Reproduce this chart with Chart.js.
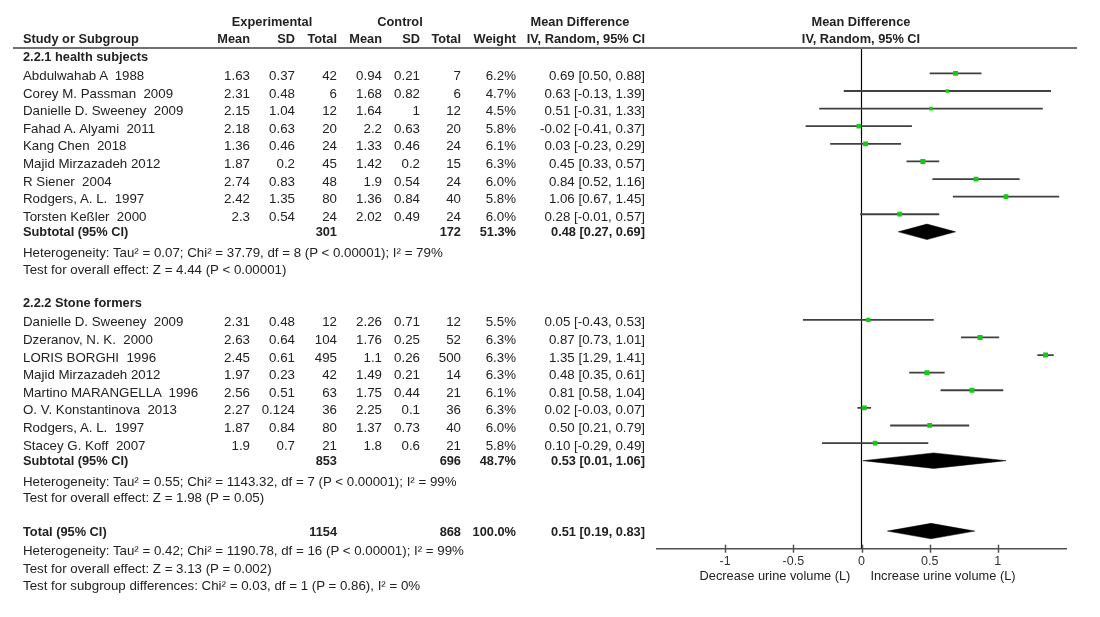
<!DOCTYPE html>
<html>
<head>
<meta charset="utf-8">
<script src="https://cdn.jsdelivr.net/npm/chart.js@4.4.1/dist/chart.umd.min.js"></script>
<style>
html,body{margin:0;padding:0;background:#fff;}
#wrap{position:relative;width:1100px;height:617px;overflow:hidden;font-family:"Liberation Sans",Arial,sans-serif;color:#222;}
#wrap canvas{position:absolute;left:0;top:0;}
.t{position:absolute;white-space:pre;font-size:13.3px;line-height:16px;}
.b{font-weight:bold;font-size:12.8px;}
#topline{position:absolute;left:13px;top:47px;width:1064px;height:2px;background:#707070;}
</style>
</head>
<body>
<div id="wrap">
  <canvas id="forest" width="1100" height="617"></canvas>
  <div id="topline"></div>
</div>
<script>
// study level data
const studies = ['Abdulwahab A  1988', 'Corey M. Passman  2009', 'Danielle D. Sweeney  2009', 'Fahad A. Alyami  2011',
  'Kang Chen  2018', 'Majid Mirzazadeh 2012', 'R Siener  2004', 'Rodgers, A. L.  1997', 'Torsten Keßler  2000',
  'Danielle D. Sweeney  2009', 'Dzeranov, N. K.  2000', 'LORIS BORGHI  1996', 'Majid Mirzazadeh 2012',
  'Martino MARANGELLA  1996', 'O. V. Konstantinova  2013', 'Rodgers, A. L.  1997', 'Stacey G. Koff  2007'];
const studyGroup = [0,0,0,0,0,0,0,0,0, 1,1,1,1,1,1,1,1];
const expMean = [1.63, 2.31, 2.15, 2.18, 1.36, 1.87, 2.74, 2.42, 2.3, 2.31, 2.63, 2.45, 1.97, 2.56, 2.27, 1.87, 1.9];
const expSD   = [0.37, 0.48, 1.04, 0.63, 0.46, 0.2, 0.83, 1.35, 0.54, 0.48, 0.64, 0.61, 0.23, 0.51, 0.124, 0.84, 0.7];
const expN    = [42, 6, 12, 20, 24, 45, 48, 80, 24, 12, 104, 495, 42, 63, 36, 80, 21];
const ctlMean = [0.94, 1.68, 1.64, 2.2, 1.33, 1.42, 1.9, 1.36, 2.02, 2.26, 1.76, 1.1, 1.49, 1.75, 2.25, 1.37, 1.8];
const ctlSD   = [0.21, 0.82, 1, 0.63, 0.46, 0.2, 0.54, 0.84, 0.49, 0.71, 0.25, 0.26, 0.21, 0.44, 0.1, 0.73, 0.6];
const ctlN    = [7, 6, 12, 20, 24, 15, 24, 40, 24, 12, 52, 500, 14, 21, 36, 40, 21];
const weight  = [6.2, 4.7, 4.5, 5.8, 6.1, 6.3, 6.0, 5.8, 6.0, 5.5, 6.3, 6.3, 6.3, 6.1, 6.3, 6.0, 5.8];
const md      = [0.69, 0.63, 0.51, -0.02, 0.03, 0.45, 0.84, 1.06, 0.28, 0.05, 0.87, 1.35, 0.48, 0.81, 0.02, 0.50, 0.10];
const ciLow   = [0.50, -0.13, -0.31, -0.41, -0.23, 0.33, 0.52, 0.67, -0.01, -0.43, 0.73, 1.29, 0.35, 0.58, -0.03, 0.21, -0.29];
const ciHigh  = [0.88, 1.39, 1.33, 0.37, 0.29, 0.57, 1.16, 1.45, 0.57, 0.53, 1.01, 1.41, 0.61, 1.04, 0.07, 0.79, 0.49];

// subgroups and overall
const groupNames = ['2.2.1 health subjects', '2.2.2 Stone formers'];
const groupExpN = [301, 853];
const groupCtlN = [172, 696];
const groupWeight = [51.3, 48.7];
const groupMd = [0.48, 0.53];
const groupLow = [0.27, 0.01];
const groupHigh = [0.69, 1.06];
const groupHet = ['Heterogeneity: Tau² = 0.07; Chi² = 37.79, df = 8 (P < 0.00001); I² = 79%',
                  'Heterogeneity: Tau² = 0.55; Chi² = 1143.32, df = 7 (P < 0.00001); I² = 99%'];
const groupEffect = ['Test for overall effect: Z = 4.44 (P < 0.00001)', 'Test for overall effect: Z = 1.98 (P = 0.05)'];
const totalN = [1154, 868];
const totalWeight = 100.0;
const totalCI = [0.51, 0.19, 0.83];
const totalNotes = ['Heterogeneity: Tau² = 0.42; Chi² = 1190.78, df = 16 (P < 0.00001); I² = 99%',
                    'Test for overall effect: Z = 3.13 (P = 0.002)',
                    'Test for subgroup differences: Chi² = 0.03, df = 1 (P = 0.86), I² = 0%'];
const xTicks = [-1, -0.5, 0, 0.5, 1];

// layout
const ROW = 17.6, TOP = 47;
const colRight = [250, 295, 337, 382, 420, 461, 516, 645];
const wrap = document.getElementById('wrap');

function ty(r) { return TOP + (r + 0.5) * ROW + 2.5; }

function put(text, x, y, align, bold, size) {
  var d = document.createElement('div');
  d.className = 't' + (bold ? ' b' : '');
  d.textContent = text;
  if (size) d.style.fontSize = size + 'px';
  d.style.top = (y - 8) + 'px';
  if (align == 'r') { d.style.left = (x - 400) + 'px'; d.style.width = '400px'; d.style.textAlign = 'right'; }
  else if (align == 'c') { d.style.left = (x - 200) + 'px'; d.style.width = '400px'; d.style.textAlign = 'center'; }
  else d.style.left = x + 'px';
  wrap.appendChild(d);
}

function ciText(m, lo, hi) { return m.toFixed(2) + ' [' + lo.toFixed(2) + ', ' + hi.toFixed(2) + ']'; }

// header
put('Experimental', 272, 22, 'c', true);
put('Control', 400, 22, 'c', true);
put('Mean Difference', 580, 22, 'c', true);
put('Mean Difference', 861, 22, 'c', true);
put('Study or Subgroup', 23, 39, 'l', true);
['Mean', 'SD', 'Total', 'Mean', 'SD', 'Total', 'Weight', 'IV, Random, 95% CI'].forEach(function(h, i) {
  put(h, colRight[i], 39, 'r', true);
});
put('IV, Random, 95% CI', 861, 39, 'c', true);

// work out the row of every line
var studyRow = [], groupRow = [], r = 0;
groupNames.forEach(function(g, gi) {
  put(g, 23, ty(r) - 1.5, 'l', true);
  r++;
  studies.forEach(function(s, i) {
    if (studyGroup[i] != gi) return;
    studyRow[i] = r;
    var vals = [expMean[i], expSD[i], expN[i], ctlMean[i], ctlSD[i], ctlN[i], weight[i].toFixed(1) + '%', ciText(md[i], ciLow[i], ciHigh[i])];
    put(s, 23, ty(r), 'l');
    vals.forEach(function(v, k) { put(String(v), colRight[k], ty(r), 'r'); });
    r++;
  });
  groupRow[gi] = r;
  put('Subtotal (95% CI)', 23, ty(r) - 2, 'l', true);
  put(String(groupExpN[gi]), colRight[2], ty(r) - 2, 'r', true);
  put(String(groupCtlN[gi]), colRight[5], ty(r) - 2, 'r', true);
  put(groupWeight[gi].toFixed(1) + '%', colRight[6], ty(r) - 2, 'r', true);
  put(ciText(groupMd[gi], groupLow[gi], groupHigh[gi]), colRight[7], ty(r) - 2, 'r', true);
  put(groupHet[gi], 23, ty(r + 1) + 1, 'l');
  put(groupEffect[gi], 23, ty(r + 2), 'l');
  r += 4;
});
var totalRow = r;
put('Total (95% CI)', 23, ty(r) - 2, 'l', true);
put(String(totalN[0]), colRight[2], ty(r) - 2, 'r', true);
put(String(totalN[1]), colRight[5], ty(r) - 2, 'r', true);
put(totalWeight.toFixed(1) + '%', colRight[6], ty(r) - 2, 'r', true);
put(ciText(totalCI[0], totalCI[1], totalCI[2]), colRight[7], ty(r) - 2, 'r', true);
totalNotes.forEach(function(t, k) { put(t, 23, ty(r + 1 + k), 'l'); });

put('Decrease urine volume (L)', 775, 576, 'c', false, 12.8);
put('Increase urine volume (L)', 943, 576, 'c', false, 12.8);

// datasets for the plot
var datasets = [];
studies.forEach(function(s, i) {
  datasets.push({
    data: [{x: ciLow[i], y: studyRow[i] + 0.5}, {x: ciHigh[i], y: studyRow[i] + 0.5}],
    showLine: true, borderColor: '#404040', borderWidth: 1.8, pointRadius: 0, order: 2
  });
});
function diamond(m, lo, hi, row) {
  var c = row + 0.5, h = 0.44;
  return {
    data: [{x: lo, y: c}, {x: m, y: c - h}, {x: hi, y: c}, {x: m, y: c + h}, {x: lo, y: c}],
    showLine: true, fill: 'shape', backgroundColor: '#000', borderColor: '#000', borderWidth: 0.5,
    pointRadius: 0, tension: 0, order: 2
  };
}
groupNames.forEach(function(g, gi) { datasets.push(diamond(groupMd[gi], groupLow[gi], groupHigh[gi], groupRow[gi])); });
datasets.push(diamond(totalCI[0], totalCI[1], totalCI[2], totalRow));
// line of no effect
datasets.push({
  data: [{x: 0, y: 0}, {x: 0, y: 28.5}],
  showLine: true, borderColor: '#000', borderWidth: 1.2, pointRadius: 0, order: 3
});
// study estimates, on top of everything
datasets.push({
  data: studies.map(function(s, i) { return {x: md[i], y: studyRow[i] + 0.5}; }),
  pointStyle: 'rect',
  pointRadius: weight.map(function(w) { return w * 0.56; }),
  backgroundColor: '#12cc12',
  borderColor: '#12cc12',
  borderWidth: 0,
  showLine: false,
  order: 0
});

const tickMarks = {
  id: 'tickMarks',
  afterDraw(chart) {
    const sx = chart.scales.x, ctx = chart.ctx, yb = chart.chartArea.bottom;
    ctx.save();
    ctx.strokeStyle = '#505050';
    ctx.lineWidth = 1.5;
    xTicks.forEach(function(v) {
      var px = Math.round(sx.getPixelForValue(v)) + 0.5;
      ctx.beginPath();
      ctx.moveTo(px, yb - 4);
      ctx.lineTo(px, yb + 4);
      ctx.stroke();
    });
    ctx.restore();
  }
};

new Chart(document.getElementById('forest'), {
  type: 'scatter',
  data: {datasets: datasets},
  plugins: [tickMarks],
  options: {
    responsive: false,
    animation: false,
    layout: {padding: {left: 657, right: 34, top: TOP, bottom: 0}},
    plugins: {legend: {display: false}, tooltip: {enabled: false}},
    scales: {
      x: {
        type: 'linear', min: -1.5, max: 1.5,
        afterFit: function(s) { s.height = 68.3; },
        afterBuildTicks: function(s) { s.ticks = xTicks.map(function(v) { return {value: v}; }); },
        grid: {display: false, drawTicks: false},
        border: {display: true, color: '#505050', width: 1.5},
        ticks: {padding: 5, color: '#333', font: {family: 'Liberation Sans', size: 12.5},
                callback: function(v) { return String(v); }}
      },
      y: {type: 'linear', min: 0, max: 28.5, reverse: true, display: false}
    }
  }
});
</script>
</body>
</html>
